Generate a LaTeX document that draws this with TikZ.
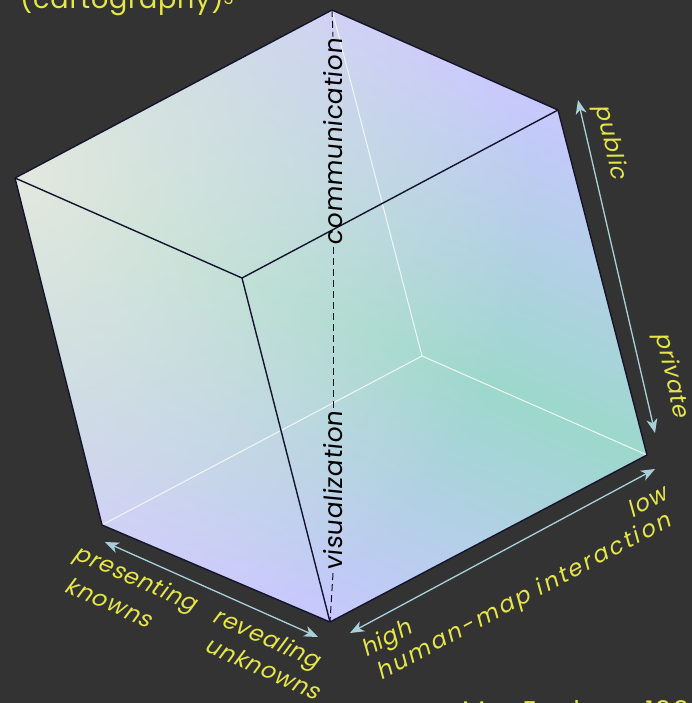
\documentclass[tikz,border=0pt]{standalone}
\usepackage{fontspec}
\usepackage{tikz}
\usetikzlibrary{arrows.meta,fadings}
\newfontfamily\cclabfont{Poppins}[FakeSlant=0.22,LetterSpace=4]
\newfontfamily\ccwidefont{Poppins}[FakeSlant=0.22,LetterSpace=11]
\newfontfamily\ccaxfont{Poppins}[FakeSlant=0.1,LetterSpace=2]
\newfontfamily\cctitlefont{Poppins}[LetterSpace=3]
\definecolor{ccbg}{HTML}{333333}
\definecolor{ccyel}{HTML}{E6E64B}
\definecolor{ccteal}{HTML}{9CD8CC}
\definecolor{cclav}{HTML}{C8C8FF}
\definecolor{ccpale}{HTML}{E4E8E0}
\definecolor{ccedge}{HTML}{14142E}
\definecolor{cchid}{HTML}{F2F6F6}
\definecolor{ccarrow}{HTML}{A8D0DA}
\tikzfading[name=ccglow,inner color=transparent!0,outer color=transparent!100]
\tikzset{
  ccedgeline/.style={draw=ccedge,line width=1.4pt,line join=round},
  cchidline/.style={draw=cchid,line width=1pt},
  ccdash/.style={draw=ccedge,line width=1pt,dash pattern=on 7pt off 4pt},
  ccarr/.style={{Stealth[length=14pt,width=11pt,inset=4pt]}-{Stealth[length=14pt,width=11pt,inset=4pt]},
                draw=ccarrow,fill=ccarrow,line width=1.3pt},
  cclab/.style={font=\cclabfont\fontsize{23}{25}\selectfont,text=ccyel,inner sep=0pt},
  ccwide/.style={font=\ccwidefont\fontsize{23}{25}\selectfont,text=ccyel,inner sep=0pt},
  ccaxis/.style={font=\ccaxfont\fontsize{25}{27}\selectfont,text=black,inner sep=2pt},
  cctitle/.style={font=\cctitlefont\fontsize{27}{29}\selectfont,text=ccyel,inner sep=0pt},
}

\begin{document}
\begin{tikzpicture}[x=1pt,y=-1pt]
  % ---- frame ----
  \fill[ccbg] (0,0) rectangle (692,703);
  \useasboundingbox (0,0) rectangle (692,703);

  % ---- cube corners ----
  \coordinate (T) at (332,10);
  \coordinate (C) at (558,110);
  \coordinate (D) at (647,455);
  \coordinate (B) at (330,622);
  \coordinate (E) at (102,525);
  \coordinate (A) at (15,178);
  \coordinate (F) at (242,278);
  \coordinate (H) at (422,356);

  % ---- faces: teal band along A--D, lavender corners, pale glow at A ----
  \begin{scope}
    \clip (T) -- (C) -- (D) -- (B) -- (E) -- (A) -- cycle;
    \fill[cclav] (0,0) rectangle (692,703);
    \begin{scope}[shift={(331,316)},rotate=-23.7]
      \foreach \k in {0,...,69}{
        \pgfmathsetmacro\mix{100-\k*100/70}
        \fill[ccteal!\mix!cclav] (-520,{\k*4-0.4}) rectangle (520,{\k*4+4.4});
        \fill[ccteal!\mix!cclav] (-520,{-\k*4+0.4}) rectangle (520,{-\k*4-4.4});
      }
    \end{scope}
    \fill[ccpale,path fading=ccglow] (20,175) circle (520);
  \end{scope}

  % ---- edges ----
  \draw[cchidline] (T) -- (H) -- (D) (H) -- (E);
  \draw[ccedgeline] (T) -- (C) -- (D) -- (B) -- (E) -- (A) -- cycle;
  \draw[ccedgeline] (A) -- (F) -- (C) (F) -- (B);

  % ---- vertical axis ----
  \node[ccaxis,rotate=90] (comm) at (333,142) {communication};
  \node[ccaxis,rotate=90] (visu) at (333,491) {visualization};
  \draw[ccdash] (T) -- (comm.east);
  \draw[ccdash] (comm.west) -- (visu.east);
  \draw[ccdash] (visu.west) -- (B);

  % ---- arrows ----
  \coordinate (pubtip) at (578,100);
  \coordinate (pritip) at (655,433);
  \coordinate (prestip) at (105,542);
  \coordinate (revtip) at (318,637);
  \coordinate (hightip) at (350,633);
  \coordinate (lowtip) at (655,469);
  \draw[ccarr] (pubtip) -- (pritip);
  \draw[ccarr] (prestip) -- (revtip);
  \draw[ccarr] (hightip) -- (lowtip);

  % ---- labels ----
  \node[cclab,rotate=-77] (pub) at (610,142) {public};
  \node[cclab,rotate=-77] (pri) at (671,375) {private};
  \node[cclab,rotate=-24] (pres) at (135,580) {presenting};
  \node[cclab,rotate=-24] (kno) at (109,602) {knowns};
  \node[cclab,rotate=-24] (rev) at (266,640) {revealing};
  \node[cclab,rotate=-24] (unk) at (263,668) {unknowns};
  \node[cclab,rotate=28] (high) at (387,640) {high};
  \node[ccwide,rotate=28] (hmi) at (524,598) {human-map interaction};
  \node[cclab,rotate=28] (low) at (647,501) {low};

  % ---- title and credit (cut by the frame) ----
  \node[cctitle,anchor=base west] (ttl) at (20,9) {(cartography)\raisebox{4pt}{\fontsize{17}{17}\selectfont 3}};
  \node[cctitle,anchor=base west] (cred) at (462,720) {MacEachren 1994};
\end{tikzpicture}
\end{document}
